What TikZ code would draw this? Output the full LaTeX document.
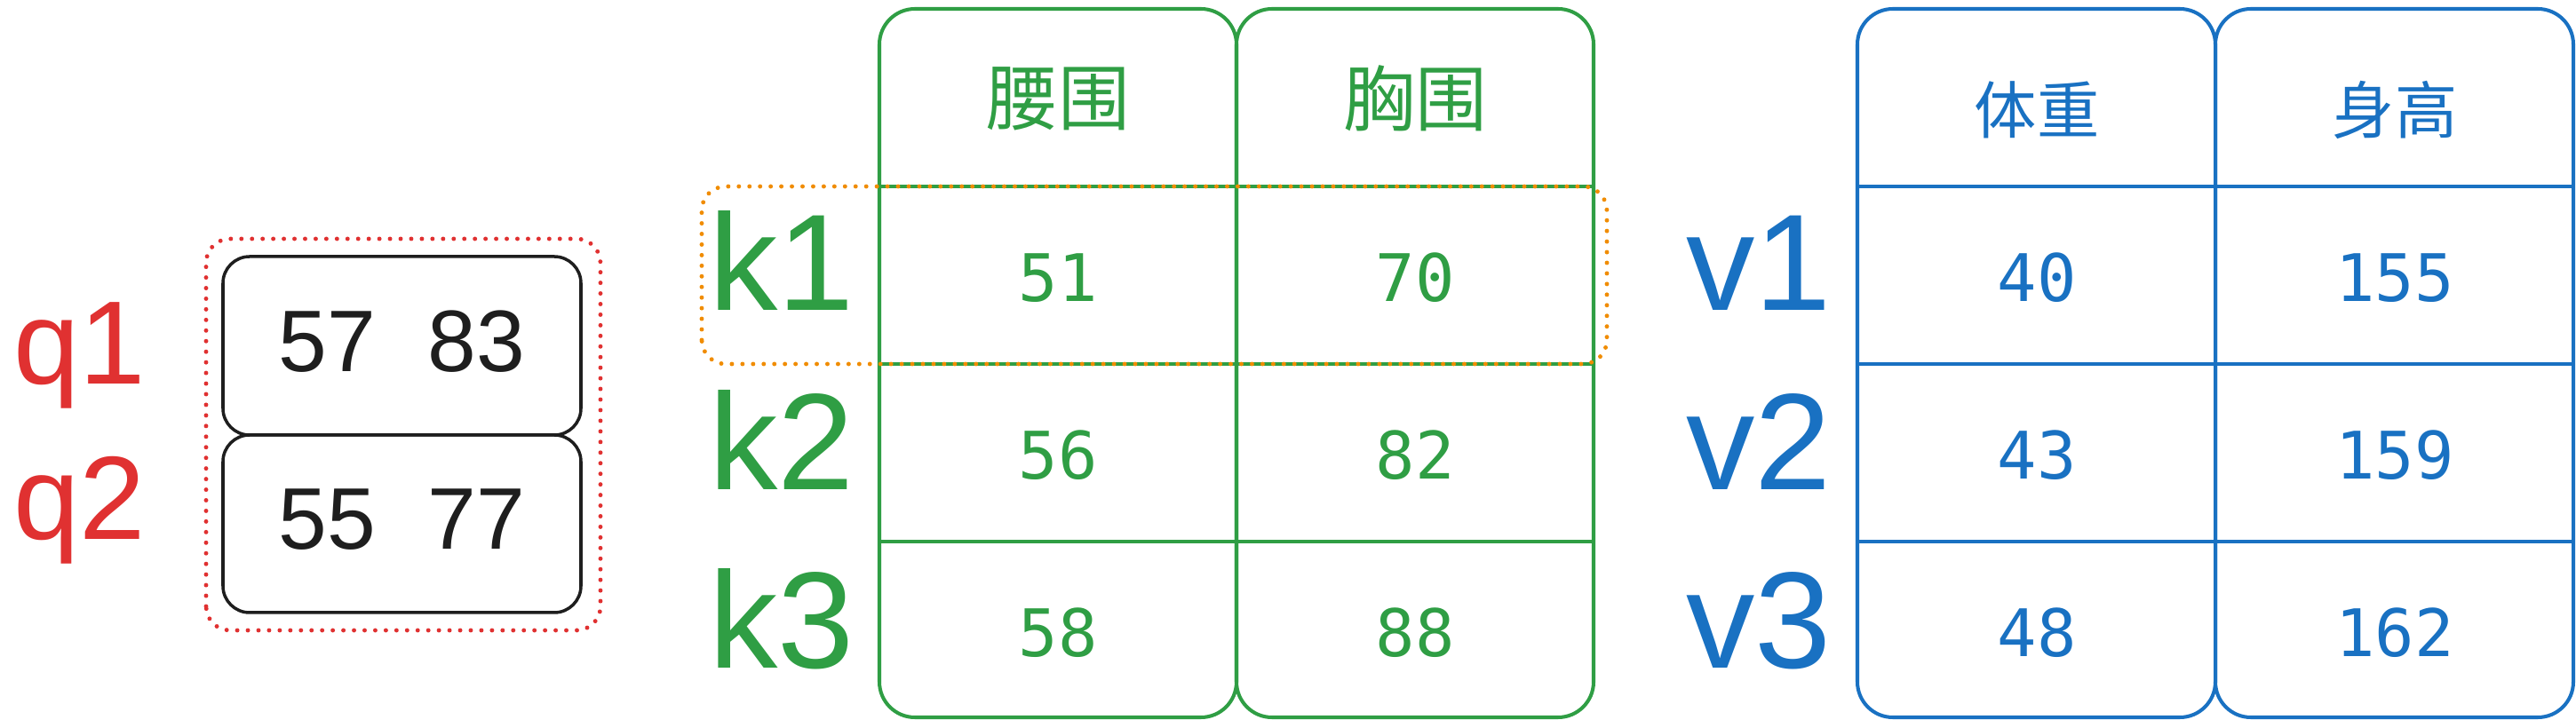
\documentclass[tikz,border=0pt]{standalone}
\usepackage{fontspec}
\setmainfont{Liberation Sans}
\newfontfamily\cjkfont{Noto Sans CJK SC}
\newfontfamily\cellfont{DejaVu Sans Mono}
\usetikzlibrary{positioning}

\definecolor{qred}{HTML}{E03131}
\definecolor{kgreen}{HTML}{2F9E44}
\definecolor{vblue}{HTML}{1971C2}
\definecolor{korange}{HTML}{F08C00}
\definecolor{ink}{HTML}{1E1E1E}

\tikzset{
  colbox/.style={line width=1.15pt, rounded corners=0.4cm},
  rowline/.style={line width=1.15pt},
  dotbox/.style={line width=1.4pt, line cap=round, dash pattern=on 0pt off 3.4pt, rounded corners=0.27cm},
  bigname/.style={anchor=base, font=\fontsize{44}{48}\selectfont},
  cellnum/.style={font=\cellfont\fontsize{21}{25}\selectfont},
  header/.style={font=\cjkfont\fontsize{23}{27}\selectfont}
}

\begin{document}
\begin{tikzpicture}
\useasboundingbox (0,0) rectangle (29,8.2);
% queries
\draw[dotbox, qred] (2.32,1.1) rectangle (6.76,5.51);
\draw[ink, line width=1pt, rounded corners=0.3cm] (2.51,3.3) rectangle (6.54,5.31);
\draw[ink, line width=1pt, rounded corners=0.3cm] (2.51,1.3) rectangle (6.54,3.3);
\node[text=ink, font=\fontsize{28}{32}\selectfont] (q1row) at (4.525,4.35) {57\hspace{0.6em}83};
\node[text=ink, font=\fontsize{28}{32}\selectfont] (q2row) at (4.525,2.35) {55\hspace{0.6em}77};
\node[bigname, text=qred, font=\fontsize{38}{42}\selectfont] (q1) at (0.9,3.87) {q1};
\node[bigname, text=qred, font=\fontsize{38}{42}\selectfont] (q2) at (0.9,2.12) {q2};
% keys
\foreach \x in {9.9,13.92}
  \draw[colbox, kgreen] (\x,0.12) rectangle ++(4.02,7.98);
\foreach \y in {6.1,4.1,2.1}
  \draw[rowline, kgreen] (9.9,\y) -- (17.94,\y);
\node[header, text=kgreen] (kh1) at (11.91,7.09) {腰围};
\node[header, text=kgreen] (kh2) at (15.93,7.09) {胸围};
\foreach \a/\b [count=\i] in {51/70,56/82,58/88} {
  \node[bigname, text=kgreen] (k\i) at (8.8,{6.715-2.015*\i}) {k\i};
  \node[cellnum, text=kgreen] (kw\i) at (11.91,{7.07-2*\i}) {\a};
  \node[cellnum, text=kgreen] (kc\i) at (15.93,{7.07-2*\i}) {\b};
}
\draw[dotbox, korange] (7.9,4.1) rectangle (18.09,6.1);
% values
\foreach \x in {20.91,24.94}
  \draw[colbox, vblue] (\x,0.12) rectangle ++(4.03,7.98);
\foreach \y in {6.1,4.1,2.1}
  \draw[rowline, vblue] (20.91,\y) -- (28.97,\y);
\node[header, text=vblue, font=\cjkfont\fontsize{20}{24}\selectfont] (vh1) at (22.93,6.96) {体重};
\node[header, text=vblue, font=\cjkfont\fontsize{20}{24}\selectfont] (vh2) at (26.96,6.96) {身高};
\foreach \a/\b [count=\i] in {40/155,43/159,48/162} {
  \node[bigname, text=vblue] (v\i) at (19.8,{6.715-2.015*\i}) {v\i};
  \node[cellnum, text=vblue] (vw\i) at (22.93,{7.07-2*\i}) {\a};
  \node[cellnum, text=vblue] (vh\i) at (26.96,{7.07-2*\i}) {\b};
}
\end{tikzpicture}
\end{document}
